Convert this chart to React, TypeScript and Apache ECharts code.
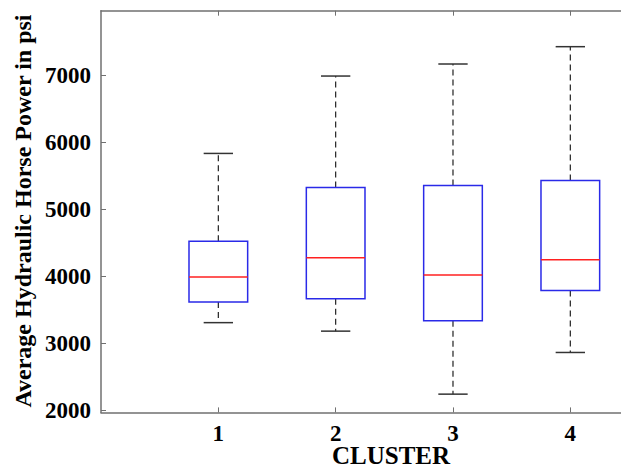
import React, { useEffect, useRef } from "react";
import * as echarts from "echarts";

const categories = ["1", "2", "3", "4"];
const xPositions = [1, 2, 3, 4];
const minVals = [3308, 3181, 2239, 2862];
const q1Vals = [3617, 3665, 3336, 3790];
const medianVals = [3991, 4278, 4019, 4249];
const q3Vals = [4525, 5330, 5360, 5435];
const maxVals = [5838, 6995, 7175, 7434];
const yTicks = [2000, 3000, 4000, 5000, 6000, 7000];

const FONT = '"Liberation Serif", "Times New Roman", serif';
const AXIS_COLOR = "#707070";

export default function App() {
  const ref = useRef<HTMLDivElement>(null);

  useEffect(() => {
    if (!ref.current) return;
    const chart = echarts.init(ref.current, null, { renderer: "svg" });

    const data = xPositions.map((x, i) => [
      x,
      minVals[i],
      q1Vals[i],
      medianVals[i],
      q3Vals[i],
      maxVals[i],
    ]);

    const renderItem = (params: any, api: any) => {
      const x = api.value(0);
      const band = api.size([1, 0])[0];
      const half = band * 0.25;
      const capHalf = band * 0.125;
      const pMin = api.coord([x, api.value(1)]);
      const pQ1 = api.coord([x, api.value(2)]);
      const pMed = api.coord([x, api.value(3)]);
      const pQ3 = api.coord([x, api.value(4)]);
      const pMax = api.coord([x, api.value(5)]);
      const cx = pMed[0];
      const dashStyle = { stroke: "#222", lineWidth: 1.2, lineDash: [6, 4] };
      const capStyle = { stroke: "#333", lineWidth: 1.5 };
      return {
        type: "group",
        children: [
          { type: "line", shape: { x1: cx, y1: pQ3[1], x2: cx, y2: pMax[1] }, style: dashStyle },
          { type: "line", shape: { x1: cx, y1: pQ1[1], x2: cx, y2: pMin[1] }, style: dashStyle },
          { type: "line", shape: { x1: cx - capHalf, y1: pMax[1], x2: cx + capHalf, y2: pMax[1] }, style: capStyle },
          { type: "line", shape: { x1: cx - capHalf, y1: pMin[1], x2: cx + capHalf, y2: pMin[1] }, style: capStyle },
          {
            type: "rect",
            shape: { x: cx - half, y: pQ3[1], width: half * 2, height: pQ1[1] - pQ3[1] },
            style: { fill: "none", stroke: "#2a2ae8", lineWidth: 1.5 },
          },
          {
            type: "line",
            shape: { x1: cx - half, y1: pMed[1], x2: cx + half, y2: pMed[1] },
            style: { stroke: "#ff2020", lineWidth: 1.5 },
          },
        ],
      };
    };

    const X_MAX = 520 / 117.33;

    chart.setOption({
      animation: false,
      backgroundColor: "#ffffff",
      grid: { left: 101, top: 10.7, right: 0, height: 401.7, containLabel: false },
      xAxis: [
        {
          type: "value",
          position: "bottom",
          min: 0,
          max: X_MAX,
          splitLine: { show: false },
          axisLine: { show: true, lineStyle: { color: AXIS_COLOR, width: 1.5 } },
          axisTick: { show: true, inside: true, length: 5, customValues: xPositions, lineStyle: { color: AXIS_COLOR } },
          axisLabel: {
            customValues: xPositions,
            formatter: (v: number) => categories[Math.round(v) - 1] ?? "",
            color: "#000",
            fontFamily: FONT,
            fontWeight: "bold",
            fontSize: 23,
            margin: 10,
          },
        },
        {
          type: "value",
          position: "top",
          min: 0,
          max: X_MAX,
          splitLine: { show: false },
          axisLine: { show: true, lineStyle: { color: AXIS_COLOR, width: 1.5 } },
          axisTick: { show: true, inside: true, length: 5, customValues: xPositions, lineStyle: { color: AXIS_COLOR } },
          axisLabel: { show: false },
        },
      ],
      yAxis: {
        type: "value",
        min: 1966,
        max: 7972,
        splitLine: { show: false },
        axisLine: { show: true, lineStyle: { color: AXIS_COLOR, width: 1.5 } },
        axisTick: { show: true, inside: true, length: 5, customValues: yTicks, lineStyle: { color: AXIS_COLOR } },
        axisLabel: {
          customValues: yTicks,
          formatter: (v: number) => String(v),
          color: "#000",
          fontFamily: FONT,
          fontWeight: "bold",
          fontSize: 23,
          margin: 10,
        },
      },
      graphic: [
        {
          type: "text",
          x: 23,
          y: 211,
          rotation: Math.PI / 2,
          style: {
            text: "Average Hydraulic Horse Power in psi",
            fill: "#000",
            font: `bold 24px ${FONT}`,
            textAlign: "center",
            textVerticalAlign: "middle",
          },
        },
        {
          type: "text",
          x: 391,
          y: 455,
          style: {
            text: "CLUSTER",
            fill: "#000",
            font: `bold 25px ${FONT}`,
            textAlign: "center",
            textVerticalAlign: "middle",
          },
        },
      ],
      series: [
        {
          type: "custom",
          xAxisIndex: 0,
          yAxisIndex: 0,
          renderItem,
          encode: { x: 0, y: [1, 2, 3, 4, 5] },
          data,
          clip: false,
        },
      ],
    });

    return () => chart.dispose();
  }, []);

  return (
    <div
      ref={ref}
      style={{ position: "fixed", left: 0, top: 0, width: 621, height: 466 }}
    />
  );
}
